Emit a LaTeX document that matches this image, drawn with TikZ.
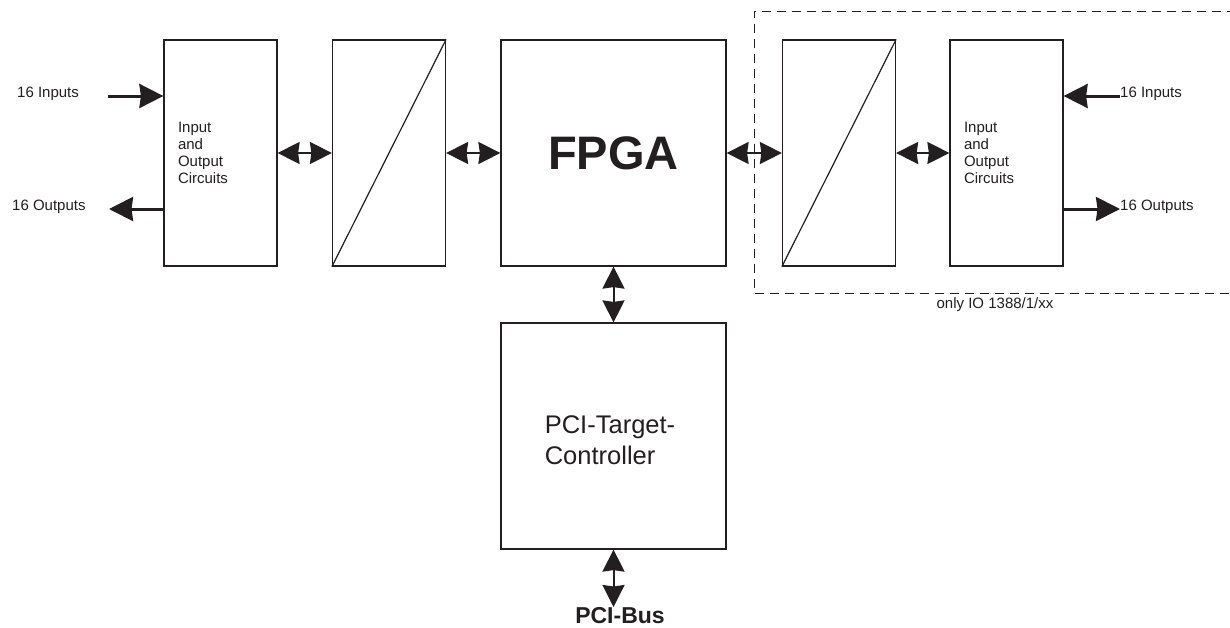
\documentclass[tikz,border=0pt]{standalone}
\usepackage{fontspec}
\setmainfont{Liberation Sans}
\usetikzlibrary{arrows.meta}
\definecolor{ink}{RGB}{35,31,32}
\tikzset{
  box/.style={draw=ink, line width=1.2pt, inner sep=0pt, minimum width=113pt, minimum height=226pt},
  bigbox/.style={draw=ink, line width=1.2pt, inner sep=0pt, minimum width=225pt, minimum height=226pt},
  iobox/.style={box, text=ink, text width=85pt, align=left, inner xsep=14pt, font=\fontsize{15}{17}\selectfont},
  lbl/.style={text=ink, inner sep=0pt, font=\fontsize{15}{17}\selectfont},
  sarrow/.style={draw=ink, line width=3pt, -{Stealth[length=24pt,width=24pt,inset=1.5pt]}},
  darrow/.style={draw=ink, line width=2pt, {Stealth[length=22pt,width=22pt,inset=1.5pt]}-{Stealth[length=22pt,width=22pt,inset=1.5pt]}},
  dashbox/.style={draw=ink, line width=1pt, dash pattern=on 9pt off 6pt}
}
\begin{document}
\begin{tikzpicture}[x=1pt,y=-1pt]
\useasboundingbox[fill=white] (0,0) rectangle (1230,627);
% dashed region
\draw[dashbox] (1236,11) -- (754,11) -- (754,293) -- (1236,293);
\node[lbl, anchor=base] (only) at (995,308) {only IO 1388/1/xx};
% boxes
\node[iobox] (io1) at (220.5,153) {Input\\and\\Output\\Circuits};
\node[box] (cv1) at (389,153) {};
\draw[draw=ink, line width=1.2pt] (cv1.south west) -- (cv1.north east);
\node[bigbox, text=ink, font=\bfseries\fontsize{47}{50}\selectfont] (fpga) at (613.5,153) {FPGA};
\node[box] (cv2) at (839,153) {};
\draw[draw=ink, line width=1.2pt] (cv2.south west) -- (cv2.north east);
\node[iobox] (io2) at (1006.5,153) {Input\\and\\Output\\Circuits};
\node[bigbox] (pci) at (613.5,436) {};
\node[text=ink, align=left, inner sep=0pt, font=\fontsize{25.5}{31}\selectfont] (pcit) at (610,440) {PCI-Target-\\Controller};
% labels
\node[lbl, anchor=base west] (in1) at (17,97) {16 Inputs};
\node[lbl, anchor=base west] (out1) at (12,210) {16 Outputs};
\node[lbl, anchor=base west] (in2) at (1120,97) {16 Inputs};
\node[lbl, anchor=base west] (out2) at (1120,210) {16 Outputs};
\node[text=ink, inner sep=0pt, font=\bfseries\fontsize{23}{25}\selectfont] (bus) at (620,616) {PCI-Bus};
% arrow end coordinates
\coordinate (in1t) at (108,96);
\coordinate (out1t) at (109,209);
\coordinate (in2t) at (1120,96);
\coordinate (out2t) at (1120,209);
\coordinate (bust) at (613.5,607);
% single arrows
\draw[sarrow] (in1t) -- (io1.west |- in1t);
\draw[sarrow] (io1.west |- out1t) -- (out1t);
\draw[sarrow] (in2t) -- (io2.east |- in2t);
\draw[sarrow] (io2.east |- out2t) -- (out2t);
% double arrows
\draw[darrow] (io1) -- (cv1);
\draw[darrow] (cv1) -- (fpga);
\draw[darrow] (fpga) -- (cv2);
\draw[darrow] (cv2) -- (io2);
\draw[darrow] (fpga) -- (pci);
\draw[darrow] (pci.south) -- (bust);
\end{tikzpicture}
\end{document}
